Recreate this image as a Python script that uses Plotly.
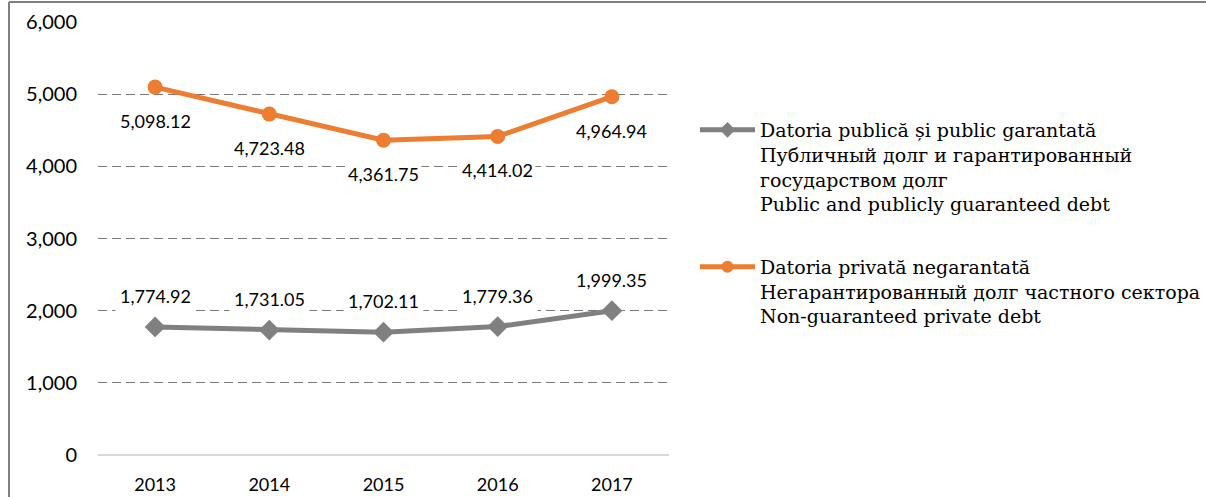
import plotly.graph_objects as go

years = [2013, 2014, 2015, 2016, 2017]
public_debt = [1774.92, 1731.05, 1702.11, 1779.36, 1999.35]
private_debt = [5098.12, 4723.48, 4361.75, 4414.02, 4964.94]
name_public = "Datoria publică și public garantată<br>Публичный долг и гарантированный<br>государством долг<br>Public and publicly guaranteed debt"
name_private = "Datoria privată negarantată<br>Негарантированный долг частного сектора<br>Non-guaranteed private debt"
y_ticks = [0, 1000, 2000, 3000, 4000, 5000, 6000]

GRAY = "#808080"
ORANGE = "#ED7D31"
W, H = 1206, 497
L, R, T, B = 98, 537, 22, 42

fig = go.Figure()
fig.add_trace(go.Scatter(
    x=years, y=public_debt, name=name_public, mode="lines+markers",
    line=dict(color=GRAY, width=5), marker=dict(symbol="diamond", size=16, color=GRAY),
    legendgroup="a"))
fig.add_trace(go.Scatter(
    x=years, y=private_debt, name=name_private, mode="lines+markers",
    line=dict(color=ORANGE, width=5), marker=dict(symbol="circle", size=15, color=ORANGE),
    legendgroup="b"))

annotations = []
for x, v in zip(years, public_debt):
    annotations.append(dict(x=x, y=v, text=f"{v:,.2f}", showarrow=False, yshift=31,
                            bgcolor="white", borderpad=4,
                            font=dict(family="Lato", size=18, color="#000000")))
for x, v in zip(years, private_debt):
    annotations.append(dict(x=x, y=v, text=f"{v:,.2f}", showarrow=False, yshift=-34,
                            bgcolor="white", borderpad=2,
                            font=dict(family="Lato", size=18, color="#000000")))

pw = W - L - R
ph = H - T - B
def px(xp):
    return (xp - L) / pw
def py(yp):
    return (H - B - yp) / ph

shapes = [
    dict(type="line", xref="paper", yref="paper", x0=px(9), x1=px(9), y0=py(2), y1=py(497),
         line=dict(color="#7f7f7f", width=2)),
    dict(type="line", xref="paper", yref="paper", x0=px(9), x1=px(1206), y0=py(2), y1=py(2),
         line=dict(color="#7f7f7f", width=2)),
]

fig.update_layout(
    width=W, height=H,
    margin=dict(l=L, r=R, t=T, b=B, autoexpand=False),
    paper_bgcolor="white", plot_bgcolor="white",
    showlegend=True,
    legend=dict(x=px(695), y=py(111), xanchor="left", yanchor="top",
                font=dict(family="DejaVu Serif", size=19, color="#000000"),
                itemwidth=55, tracegroupgap=35, valign="top", itemsizing="constant",
                bgcolor="rgba(0,0,0,0)"),
    xaxis=dict(range=[2012.5, 2017.5], tickvals=years, tickformat="d",
               showgrid=False, showline=False, ticks="", zeroline=False,
               tickfont=dict(family="Lato", size=18, color="#000000")),
    yaxis=dict(range=[0, 6000], tickvals=y_ticks, tickformat=",d",
               showgrid=True, gridcolor="#7a7a7a", griddash="9px,5px", gridwidth=1.3,
               zeroline=True, zerolinecolor="#d9d9d9", zerolinewidth=1.5,
               showline=False, ticks="", ticklen=0,
               tickfont=dict(family="Lato", size=20, color="#000000")),
    annotations=annotations,
    shapes=shapes,
)
fig.update_yaxes(ticklabelstandoff=20)
fig.update_xaxes(ticklabelstandoff=17)
fig.write_html("out.html", config={"displayModeBar": False},
               post_script="document.body.style.margin='0';document.body.style.overflow='hidden';")
